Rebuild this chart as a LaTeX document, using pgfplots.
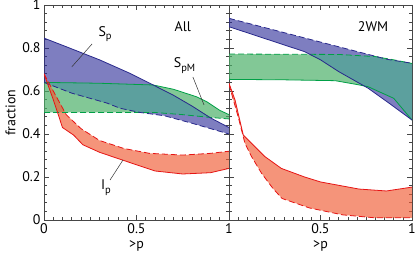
\documentclass[border=0pt]{standalone}
\usepackage{fontspec}
\setmainfont{PT Sans}
\usepackage{pgfplots}
\usepackage{pgfplotstable}
\pgfplotsset{compat=1.18}
\usepgfplotslibrary{fillbetween}

\definecolor{bline}{RGB}{40,40,140}
\definecolor{bfill}{RGB}{40,40,150}
\definecolor{gline}{RGB}{0,160,70}
\definecolor{gfill}{RGB}{74,175,103}
\definecolor{tealfill}{RGB}{92,160,158}
\definecolor{rline}{RGB}{230,20,20}
\definecolor{rfill}{RGB}{240,90,50}
\definecolor{frame}{RGB}{70,70,70}

% ---- left panel (All)
\pgfplotstableread{
x y
0 0.846
0.12 0.806
0.3 0.745
0.465 0.682
0.59 0.628
0.7 0.58
0.8 0.53
0.9 0.475
1 0.43
}\SpUa
\pgfplotstableread{
x y
0 0.64
0.15 0.59
0.34 0.544
0.41 0.52
0.52 0.5
0.65 0.485
0.8 0.45
0.9 0.425
1 0.40
}\SpLa
\pgfplotstableread{
x y
0 0.64
0.3 0.636
0.59 0.628
0.7 0.608
0.825 0.573
0.88 0.55
0.95 0.51
1 0.49
}\SpMUa
\pgfplotstableread{
x y
0 0.50
0.6 0.50
0.75 0.49
0.9 0.477
1 0.47
}\SpMLa
\pgfplotstableread{
x y
0 0.68
0.05 0.60
0.12 0.49
0.2 0.425
0.3 0.37
0.43 0.333
0.57 0.31
0.75 0.302
0.9 0.31
1 0.32
}\IpUa
\pgfplotstableread{
x y
0 0.68
0.05 0.56
0.1 0.43
0.16 0.395
0.21 0.35
0.3 0.315
0.42 0.28
0.6 0.228
0.75 0.214
0.9 0.22
1 0.24
}\IpLa
% ---- right panel (2WM)
\pgfplotstableread{
x y
0 0.938
0.43 0.843
0.866 0.747
1 0.729
}\SpUb
\pgfplotstableread{
x y
0 0.899
0.413 0.783
0.5 0.745
0.6 0.69
0.76 0.613
0.88 0.54
1 0.465
}\SpLb
\pgfplotstableread{
x y
0 0.772
0.6 0.77
0.8 0.76
0.9 0.745
1 0.728
}\SpMUb
\pgfplotstableread{
x y
0 0.654
0.3 0.652
0.58 0.648
0.7 0.63
0.76 0.62
0.9 0.566
1 0.465
}\SpMLb
\pgfplotstableread{
x y
0 0.636
0.033 0.558
0.078 0.395
0.105 0.372
0.196 0.295
0.286 0.24
0.413 0.2
0.5 0.177
0.71 0.144
0.86 0.135
1 0.153
}\IpUb
\pgfplotstableread{
x y
0 0.63
0.05 0.48
0.087 0.357
0.123 0.295
0.178 0.217
0.24 0.147
0.29 0.10
0.44 0.056
0.62 0.024
0.8 0.01
1 0.01
}\IpLb

\pgfplotsset{
  panel/.style={
    scale only axis, width=183bp, height=215bp,
    anchor=south west,
    xmin=0, xmax=1, ymin=0, ymax=1,
    axis line style={draw=frame, line width=0.9pt},
    tick align=inside, tick pos=both,
    major tick length=5bp, minor tick length=3bp,
    every tick/.style={draw=frame, line width=0.7pt},
    minor x tick num=9, minor y tick num=4,
    ytick={0,0.2,0.4,0.6,0.8,1},
    tick label style={font=\fontsize{14}{16}\selectfont},
    label style={font=\fontsize{14}{16}\selectfont},
    /pgf/number format/assume math mode=true,
    xlabel={>p},
    clip=true,
  },
  dsh/.style={dash pattern=on 6bp off 3bp},
}

\newcommand{\sub}[1]{\raisebox{-0.55ex}{\fontsize{10.5}{12}\selectfont #1}}

\begin{document}
\begin{tikzpicture}
% ---------- left
\begin{axis}[panel, at={(44bp,45bp)}, width=185bp,
  xtick={0,0.5,1}, ylabel={fraction}]
  \addplot[draw=none, name path=bu] table {\SpUa};
  \addplot[draw=none, name path=bl] table {\SpLa};
  \addplot[fill=bfill, fill opacity=0.6, draw=none] fill between[of=bu and bl];
  \addplot[draw=none, name path=gu] table {\SpMUa};
  \addplot[draw=none, name path=gl] table {\SpMLa};
  \addplot[fill=gfill, fill opacity=0.69, draw=none] fill between[of=gu and gl];
  \begin{scope}
    \clip[intersection segments={of=bu and bl, sequence={L* -- R*[reverse]}}] -- cycle;
    \fill[tealfill, intersection segments={of=gu and gl, sequence={L* -- R*[reverse]}}] -- cycle;
  \end{scope}
  \addplot[draw=none, name path=ru] table {\IpUa};
  \addplot[draw=none, name path=rl] table {\IpLa};
  \addplot[fill=rfill, fill opacity=0.65, draw=none] fill between[of=ru and rl];
  \addplot[gline, line width=0.8pt] table {\SpMUa};
  \addplot[gline, line width=0.8pt, dsh] table {\SpMLa};
  \addplot[bline, line width=0.8pt] table {\SpUa};
  \addplot[bline, line width=0.8pt, dsh] table {\SpLa};
  \addplot[rline, line width=0.8pt, dsh] table {\IpUa};
  \addplot[rline, line width=0.8pt] table {\IpLa};
  \node[font=\fontsize{14}{16}\selectfont] at (axis cs:0.75,0.898) {All};
  \node[font=\fontsize{14}{16}\selectfont] at (axis cs:0.33,0.865) {S\sub{p}};
  \draw[black!80, line width=0.5pt] (axis cs:0.26,0.819) -- (axis cs:0.15,0.712);
  \node[font=\fontsize{14}{16}\selectfont] at (axis cs:0.76,0.72) {S\sub{pM}};
  \draw[black!80, line width=0.5pt] (axis cs:0.805,0.665) -- (axis cs:0.865,0.535);
  \node[font=\fontsize{14}{16}\selectfont] at (axis cs:0.335,0.15) {I\sub{p}};
  \draw[black!80, line width=0.5pt] (axis cs:0.357,0.186) -- (axis cs:0.427,0.279);
\end{axis}
% ---------- right
\begin{axis}[panel, at={(229bp,45bp)},
  xtick={0,0.5,1}, xticklabels={{},0.5,1}, yticklabels={}]
  \addplot[draw=none, name path=bu2] table {\SpUb};
  \addplot[draw=none, name path=bl2] table {\SpLb};
  \addplot[fill=bfill, fill opacity=0.6, draw=none] fill between[of=bu2 and bl2];
  \addplot[draw=none, name path=gu2] table {\SpMUb};
  \addplot[draw=none, name path=gl2] table {\SpMLb};
  \addplot[fill=gfill, fill opacity=0.69, draw=none] fill between[of=gu2 and gl2];
  \begin{scope}
    \clip[intersection segments={of=bu2 and bl2, sequence={L* -- R*[reverse]}}] -- cycle;
    \fill[tealfill, intersection segments={of=gu2 and gl2, sequence={L* -- R*[reverse]}}] -- cycle;
  \end{scope}
  \addplot[draw=none, name path=ru2] table {\IpUb};
  \addplot[draw=none, name path=rl2] table {\IpLb};
  \addplot[fill=rfill, fill opacity=0.65, draw=none] fill between[of=ru2 and rl2];
  \addplot[gline, line width=0.8pt, dsh] table {\SpMUb};
  \addplot[gline, line width=0.8pt] table {\SpMLb};
  \addplot[bline, line width=0.8pt, dsh] table {\SpUb};
  \addplot[bline, line width=0.8pt] table {\SpLb};
  \addplot[rline, line width=0.8pt] table {\IpUb};
  \addplot[rline, line width=0.8pt, dsh] table {\IpLb};
  \node[font=\fontsize{14}{16}\selectfont] at (axis cs:0.787,0.898) {2WM};
\end{axis}
\pgfresetboundingbox
\path[use as bounding box] (0,0) rectangle (415bp,265bp);
\end{tikzpicture}
\end{document}
